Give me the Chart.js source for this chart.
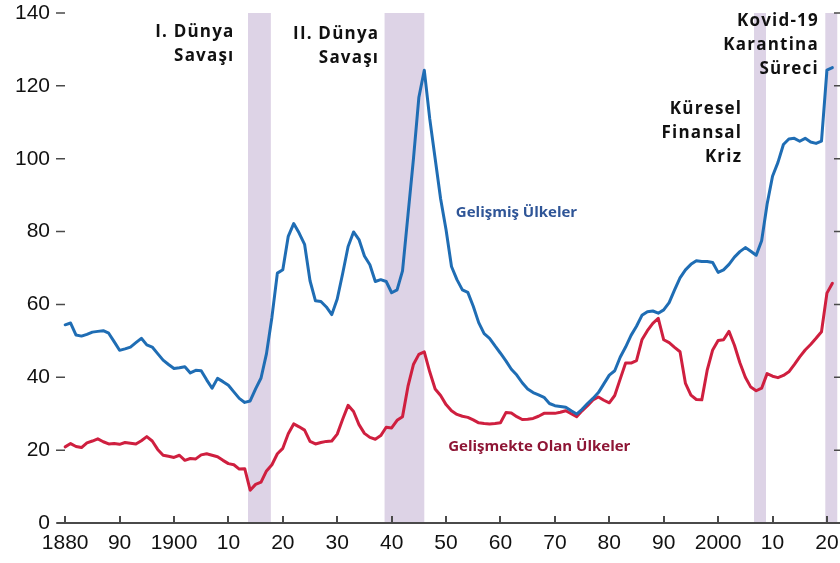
<!DOCTYPE html>
<html>
<head>
<meta charset="utf-8">
<script src="https://cdn.jsdelivr.net/npm/chart.js@4.4.1/dist/chart.umd.min.js"></script>
<style>
  html, body { margin: 0; padding: 0; background: #fff; }
  #wrap { width: 840px; height: 563px; position: relative; }
</style>
</head>
<body>
<div id="wrap"><canvas id="debt-chart"></canvas></div>
<script>
// Kamu borcu / GSYH: gelişmiş ve gelişmekte olan ülkeler, 1880-2021

const years = Array.from({length: 142}, (_, i) => 1880 + i);

const gelismisValues = [
  54.4, 54.9, 51.6, 51.3, 51.8, 52.4, 52.6, 52.8, 52.1, 49.8,
  47.4, 47.8, 48.3, 49.5, 50.7, 48.9, 48.3, 46.5, 44.7, 43.5,
  42.4, 42.6, 42.9, 41.2, 41.9, 41.8, 39.3, 37.0, 39.7, 38.8,
  37.8, 36.0, 34.2, 33.1, 33.5, 36.8, 39.8, 46.5, 56.5, 68.6,
  69.5, 78.7, 82.2, 79.6, 76.5, 66.5, 61.0, 60.8, 59.3, 57.2,
  61.5, 68.5, 75.9, 79.9, 77.8, 73.3, 70.9, 66.3, 66.8, 66.3,
  63.2, 64.0, 69.2, 84.5, 99.8, 116.8, 124.3, 111.0, 100.0, 89.0,
  80.5, 70.4, 66.8, 64.0, 63.3, 59.5, 55.0, 52.0, 50.7, 48.6,
  46.6, 44.5, 42.2, 40.6, 38.5, 36.8, 35.8, 35.2, 34.5, 32.8,
  32.2, 32.0, 31.8, 30.8, 29.9, 31.2, 32.8, 34.2, 35.8, 38.2,
  40.6, 41.8, 45.5, 48.3, 51.5, 54.0, 57.0, 58.0, 58.2, 57.6,
  58.5, 60.5, 64.0, 67.3, 69.5, 71.0, 72.0, 71.8, 71.8, 71.5,
  68.8, 69.5, 71.0, 73.0, 74.5, 75.6, 74.6, 73.5, 77.5, 87.5,
  95.2, 99.0, 103.9, 105.4, 105.6, 104.8, 105.6, 104.6, 104.2, 104.8,
  124.3, 125.0
];

const gelismekteValues = [
  20.9, 21.8, 21.0, 20.7, 22.0, 22.5, 23.1, 22.3, 21.7, 21.8,
  21.6, 22.1, 21.9, 21.7, 22.6, 23.7, 22.5, 20.2, 18.6, 18.3,
  18.0, 18.6, 17.2, 17.7, 17.6, 18.7, 19.0, 18.6, 18.2, 17.2,
  16.3, 16.0, 14.8, 14.9, 9.0, 10.6, 11.2, 14.3, 16.0, 19.0,
  20.5, 24.5, 27.2, 26.4, 25.5, 22.4, 21.7, 22.1, 22.4, 22.5,
  24.4, 28.5, 32.3, 30.6, 27.0, 24.6, 23.5, 23.0, 24.0, 26.3,
  26.1, 28.2, 29.2, 37.5, 43.5, 46.3, 47.0, 41.5, 36.8, 35.0,
  32.5, 30.8, 29.8, 29.3, 29.0, 28.3, 27.5, 27.3, 27.2, 27.3,
  27.5, 30.3, 30.2, 29.2, 28.4, 28.5, 28.7, 29.3, 30.1, 30.1,
  30.1, 30.4, 30.8, 30.0, 29.2, 30.8, 32.2, 33.8, 34.6, 33.7,
  33.0, 35.0, 39.5, 43.9, 43.9, 44.6, 50.3, 52.8, 54.8, 56.2,
  50.3, 49.5, 48.2, 47.0, 38.3, 35.1, 33.9, 33.8, 42.0, 47.5,
  50.1, 50.3, 52.6, 48.8, 44.0, 40.0, 37.3, 36.3, 37.0, 41.0,
  40.3, 39.9, 40.5, 41.5, 43.5, 45.6, 47.5, 49.0, 50.7, 52.5,
  63.1, 65.8
];

// shaded periods (start, end in years)
const bandStarts = [1913.6, 1938.7, 2006.6, 2019.7];
const bandEnds   = [1917.8, 1946.0, 2008.8, 2021.9];

// x axis tick positions and their printed labels
const xTickYears  = [1880, 1890, 1900, 1910, 1920, 1930, 1940, 1950, 1960, 1970, 1980, 1990, 2000, 2010, 2020];
const xTickLabels = ['1880', '90', '1900', '10', '20', '30', '40', '50', '60', '70', '80', '90', '2000', '10', '20'];
const yTickValues = [0, 20, 40, 60, 80, 100, 120, 140];

const BLUE = '#1f6db4';
const RED = '#cf1f3f';
const BAND = '#ddd3e6';
const AXIS = '#4a4a4a';

// annotation text, anchored in data units
const notes = [
  {lines: ['I. Dünya', 'Savaşı'], x: 1910.9, y: 134.7, align: 'right'},
  {lines: ['II. Dünya', 'Savaşı'], x: 1937.5, y: 134.2, align: 'right'},
  {lines: ['Küresel', 'Finansal', 'Kriz'], x: 2004.2, y: 113.5, align: 'right'},
  {lines: ['Kovid-19', 'Karantina', 'Süreci'], x: 2018.3, y: 137.7, align: 'right'}
];
const seriesNotes = [
  {text: 'Gelişmiş Ülkeler', x: 1951.8, y: 85.2, color: '#2f5597'},
  {text: 'Gelişmekte Olan Ülkeler', x: 1950.4, y: 20.9, color: '#8e1535'}
];

function toPoints(vals){
  return vals.map((v, i) => ({x: years[i], y: v}));
}

const bandsPlugin = {
  id: 'bands',
  beforeDatasetsDraw(chart){
    const {ctx, chartArea, scales} = chart;
    ctx.save();
    ctx.fillStyle = BAND;
    const top = scales.y.getPixelForValue(140);
    for(let i=0;i<bandStarts.length;i++){
      const x1 = scales.x.getPixelForValue(bandStarts[i]);
      const x2 = scales.x.getPixelForValue(bandEnds[i]);
      ctx.fillRect(x1, top, x2 - x1, chartArea.bottom - top);
    }
    ctx.restore();
  }
};

const axisPlugin = {
  id: 'axisMarks',
  afterDatasetsDraw(chart){
    const {ctx, chartArea, scales} = chart;
    const bottom = chartArea.bottom;
    ctx.save();
    ctx.strokeStyle = AXIS;
    // x axis line
    ctx.lineWidth = 2;
    ctx.beginPath();
    ctx.moveTo(chartArea.left, bottom);
    ctx.lineTo(chartArea.right, bottom);
    ctx.stroke();
    // decade ticks pointing up
    xTickYears.forEach(yr => {
      const x = Math.round(scales.x.getPixelForValue(yr));
      ctx.beginPath();
      ctx.moveTo(x, bottom);
      ctx.lineTo(x, bottom - 7);
      ctx.stroke();
    });
    // left and right value ticks
    ctx.lineWidth = 1.5;
    yTickValues.forEach(v => {
      const y = scales.y.getPixelForValue(v);
      ctx.beginPath();
      ctx.moveTo(chartArea.left - 1, y);
      ctx.lineTo(chartArea.left + 8, y);
      ctx.moveTo(chartArea.right - 6, y);
      ctx.lineTo(chartArea.right, y);
      ctx.stroke();
    });
    ctx.restore();
  },
  afterDraw(chart){
    const {ctx, scales} = chart;
    ctx.save();
    ctx.textBaseline = 'middle';
    ctx.fillStyle = '#111';
    ctx.font = 'bold 17px "Open Sans", sans-serif';
    ctx.letterSpacing = '1.2px';
    notes.forEach(n => {
      const x = scales.x.getPixelForValue(n.x);
      const y0 = scales.y.getPixelForValue(n.y);
      ctx.textAlign = n.align;
      n.lines.forEach((line, i) => {
        ctx.fillText(line, x + 1.2, y0 + i * 23.8);
      });
    });
    ctx.font = 'bold 15px "Open Sans", sans-serif';
    ctx.letterSpacing = '0px';
    ctx.textAlign = 'left';
    seriesNotes.forEach(n => {
      ctx.fillStyle = n.color;
      ctx.fillText(n.text, scales.x.getPixelForValue(n.x), scales.y.getPixelForValue(n.y));
    });
    ctx.restore();
  }
};

new Chart(document.getElementById('debt-chart'), {
  type: 'line',
  data: {
    datasets: [
      {label: 'Gelişmiş Ülkeler', data: toPoints(gelismisValues), borderColor: BLUE, borderWidth: 3},
      {label: 'Gelişmekte Olan Ülkeler', data: toPoints(gelismekteValues), borderColor: RED, borderWidth: 3}
    ]
  },
  options: {
    responsive: true,
    maintainAspectRatio: false,
    animation: false,
    layout: { padding: { top: 13, right: 0, left: 0, bottom: 0 } },
    elements: {
      point: { radius: 0 },
      line: { tension: 0, borderJoinStyle: 'round', borderCapStyle: 'round' }
    },
    plugins: { legend: { display: false }, tooltip: { enabled: false } },
    scales: {
      x: {
        type: 'linear',
        min: 1878.5,
        max: 2022.4,
        grid: { display: false, drawTicks: false },
        border: { display: false },
        afterBuildTicks: scale => { scale.ticks = xTickYears.map(v => ({value: v})); },
        afterFit: scale => {
          scale.height = 40;
          scale.paddingLeft = 0;
          scale.paddingRight = 0;
        },
        ticks: {
          autoSkip: false,
          maxRotation: 0,
          padding: 8,
          color: '#111',
          font: { family: '"Liberation Sans", Arial, sans-serif', size: 21 },
          callback: (v) => xTickLabels[xTickYears.indexOf(v)]
        }
      },
      y: {
        min: 0,
        max: 140,
        grid: { display: false, drawTicks: false },
        border: { display: false },
        afterBuildTicks: scale => { scale.ticks = yTickValues.map(v => ({value: v})); },
        afterFit: scale => {
          scale.width = 57;
          scale.paddingTop = 0;
          scale.paddingBottom = 0;
        },
        ticks: {
          padding: 7,
          color: '#111',
          font: { family: '"Liberation Sans", Arial, sans-serif', size: 21 }
        }
      }
    }
  },
  plugins: [bandsPlugin, axisPlugin]
});
</script>
</body>
</html>
